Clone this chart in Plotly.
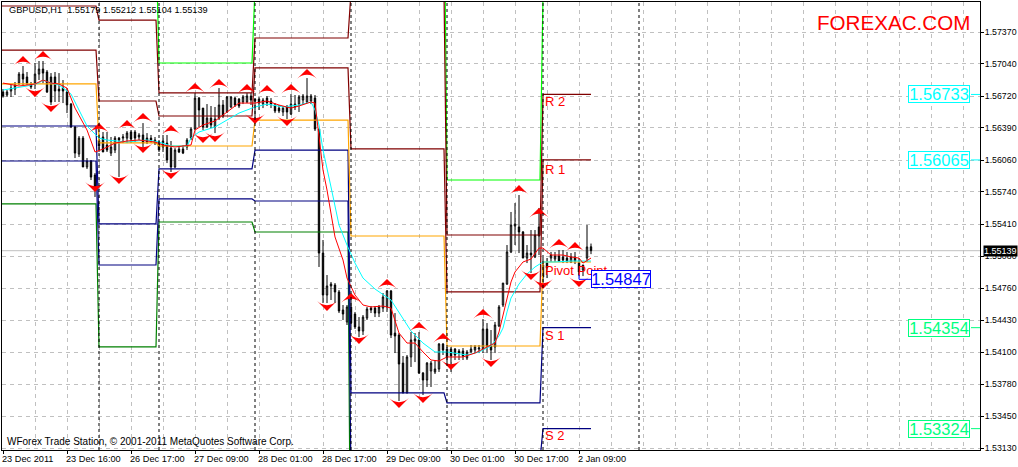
import plotly.graph_objs as go

# Candles, one per hour bar, oldest first
open_ = [1.56758,1.56727,1.56768,1.56788,1.56849,1.56941,1.56911,1.56829,1.56849,1.56941,
         1.56992,1.56962,1.56911,1.56911,1.56788,1.56798,1.56758,1.56635,1.56401,1.56125,
         1.56288,1.55993,1.56054,1.55911,1.56268,1.56299,1.56217,1.56135,1.56166,1.56288,
         1.56288,1.56288,1.56350,1.56350,1.56299,1.56319,1.56288,1.56288,1.56268,1.56248,
         1.56258,1.56237,1.56186,1.55993,1.56176,1.56176,1.56197,1.56288,1.56380,1.56696,
         1.56594,1.56401,1.56492,1.56401,1.56492,1.56625,1.56554,1.56605,1.56696,1.56686,
         1.56656,1.56656,1.56717,1.56686,1.56686,1.56635,1.56696,1.56666,1.56625,1.56594,
         1.56554,1.56605,1.56533,1.56605,1.56635,1.56676,1.56656,1.56666,1.56696,1.56380,
         1.55115,1.54687,1.54779,1.54789,1.54718,1.54534,1.54412,1.54565,1.54493,1.54361,
         1.54320,1.54452,1.54554,1.54554,1.54503,1.54554,1.54565,1.54728,1.54299,1.54279,
         1.53993,1.53687,1.54055,1.54218,1.54228,1.53891,1.53820,1.53912,1.53902,1.53932,
         1.54187,1.54136,1.54136,1.54136,1.54116,1.54116,1.54044,1.54106,1.54126,1.54136,
         1.54136,1.54340,1.54167,1.54157,1.54371,1.54585,1.54799,1.55126,1.55391,1.55381,
         1.55330,1.55064,1.55115,1.55075,1.55381,1.54993,1.55013,1.55064,1.55054,1.55085,
         1.55075,1.55064,1.55024,1.55075,1.55013,1.54942,1.55064,1.55179]
high = [1.56788,1.56778,1.56829,1.56860,1.56962,1.57023,1.56962,1.56860,1.57053,1.57074,
        1.57074,1.56982,1.56951,1.56962,1.56951,1.56880,1.56798,1.56645,1.56411,1.56309,
        1.56309,1.56084,1.56064,1.55931,1.56329,1.56350,1.56350,1.56299,1.56309,1.56299,
        1.56329,1.56360,1.56370,1.56370,1.56339,1.56441,1.56339,1.56319,1.56299,1.56268,
        1.56319,1.56319,1.56258,1.56186,1.56207,1.56217,1.56288,1.56401,1.56747,1.56707,
        1.56594,1.56635,1.56615,1.56605,1.56798,1.56676,1.56717,1.56717,1.56707,1.56696,
        1.56727,1.56747,1.56747,1.56696,1.56707,1.56696,1.56717,1.56696,1.56645,1.56625,
        1.56615,1.56625,1.56737,1.56727,1.56727,1.56737,1.56900,1.56737,1.56727,1.56380,
        1.55248,1.54891,1.54820,1.54809,1.54738,1.54585,1.54585,1.54656,1.54514,1.54462,
        1.54483,1.54565,1.54575,1.54575,1.54585,1.54707,1.54738,1.54738,1.54503,1.54299,
        1.54065,1.54075,1.54310,1.54299,1.54310,1.53902,1.54003,1.54014,1.54024,1.54197,
        1.54197,1.54157,1.54157,1.54146,1.54136,1.54146,1.54126,1.54177,1.54177,1.54177,
        1.54442,1.54401,1.54330,1.54412,1.54585,1.54809,1.55197,1.55534,1.55625,1.55707,
        1.55340,1.55197,1.55350,1.55350,1.55575,1.55064,1.55064,1.55126,1.55126,1.55146,
        1.55146,1.55126,1.55115,1.55126,1.55064,1.54972,1.55401,1.55212]
low = [1.56700,1.56707,1.56707,1.56727,1.56829,1.56829,1.56829,1.56788,1.56788,1.56880,
       1.56849,1.56748,1.56625,1.56656,1.56656,1.56645,1.56543,1.56390,1.56084,1.56095,
       1.55993,1.55972,1.55860,1.55687,1.56146,1.56146,1.56146,1.56105,1.56135,1.55891,
       1.56237,1.56237,1.56237,1.56248,1.56268,1.56186,1.56227,1.56237,1.56217,1.56146,
       1.56146,1.56033,1.55942,1.55982,1.56135,1.56125,1.56166,1.56268,1.56370,1.56401,
       1.56370,1.56390,1.56390,1.56339,1.56472,1.56492,1.56543,1.56594,1.56605,1.56594,
       1.56635,1.56645,1.56625,1.56482,1.56574,1.56594,1.56615,1.56594,1.56543,1.56543,
       1.56513,1.56482,1.56523,1.56574,1.56554,1.56625,1.56645,1.56635,1.56360,1.54973,
       1.54605,1.54605,1.54636,1.54605,1.54503,1.54432,1.54381,1.54361,1.54340,1.54258,
       1.54279,1.54432,1.54503,1.54462,1.54462,1.54514,1.54514,1.54248,1.54095,1.53606,
       1.53687,1.53687,1.53953,1.54003,1.53881,1.53667,1.53749,1.53749,1.53881,1.53902,
       1.54075,1.53993,1.53902,1.54024,1.54024,1.54024,1.54024,1.54095,1.54095,1.54095,
       1.54095,1.54095,1.54024,1.54095,1.54360,1.54565,1.54789,1.55115,1.55197,1.55115,
       1.55064,1.55013,1.54911,1.55064,1.55095,1.54809,1.54860,1.55024,1.55024,1.55024,
       1.55013,1.55013,1.55013,1.55003,1.54880,1.54880,1.55024,1.55104]
close = [1.56717,1.56758,1.56798,1.56829,1.56941,1.56890,1.56849,1.56809,1.56941,1.56992,
         1.56951,1.56758,1.56656,1.56768,1.56768,1.56768,1.56625,1.56401,1.56135,1.56288,
         1.55993,1.56054,1.55890,1.55789,1.56207,1.56146,1.56166,1.56197,1.56288,1.56268,
         1.56299,1.56340,1.56278,1.56288,1.56319,1.56237,1.56248,1.56268,1.56237,1.56166,
         1.56197,1.56064,1.55993,1.56166,1.56146,1.56135,1.56268,1.56380,1.56696,1.56574,
         1.56401,1.56492,1.56421,1.56482,1.56625,1.56513,1.56707,1.56707,1.56625,1.56615,
         1.56707,1.56717,1.56676,1.56666,1.56645,1.56676,1.56645,1.56635,1.56564,1.56564,
         1.56594,1.56554,1.56635,1.56635,1.56707,1.56717,1.56717,1.56717,1.56380,1.55115,
         1.54687,1.54779,1.54799,1.54718,1.54524,1.54493,1.54565,1.54401,1.54361,1.54320,
         1.54462,1.54544,1.54534,1.54503,1.54565,1.54667,1.54728,1.54279,1.54269,1.53983,
         1.53687,1.54055,1.54228,1.54238,1.53891,1.53820,1.53993,1.53993,1.53932,1.54187,
         1.54126,1.54055,1.54065,1.54075,1.54095,1.54065,1.54106,1.54136,1.54157,1.54146,
         1.54340,1.54167,1.54126,1.54381,1.54565,1.54809,1.55126,1.55401,1.55411,1.55330,
         1.55064,1.55115,1.55095,1.55299,1.55289,1.54871,1.54962,1.55095,1.55085,1.55034,
         1.55044,1.55034,1.55075,1.55034,1.54922,1.54993,1.55177,1.55139]
bars = list(range(len(close)))

# Moving averages, read at the bars where they bend
red_ma_bars = [0,4,8,10,12,14,16,18,21,23,25,28,31,34,38,40,43,47,48,50,53,56,59,63,66,69,72,74,77,78,
               79,80,81,82,83,85,86,88,90,92,95,97,99,101,103,105,107,109,111,115,118,121,123,124,125,
               126,127,128,130,132,134,135,137,140,142,144,145,147]
red_ma = [1.56849,1.56819,1.56839,1.56880,1.56849,1.56839,1.56798,1.56594,1.56370,1.56146,1.56176,
          1.56237,1.56258,1.56268,1.56248,1.56217,1.56197,1.56217,1.56370,1.56421,1.56462,1.56554,
          1.56645,1.56645,1.56666,1.56625,1.56594,1.56615,1.56656,1.56645,1.56309,1.55962,1.55758,
          1.55534,1.55279,1.55044,1.54860,1.54687,1.54585,1.54565,1.54575,1.54554,1.54299,1.54197,
          1.54197,1.54106,1.54024,1.54014,1.54055,1.54055,1.54095,1.54157,1.54197,1.54310,1.54483,
          1.54656,1.54820,1.54922,1.55024,1.55054,1.55166,1.55166,1.55095,1.55095,1.55075,1.55064,
          1.55013,1.55064]
cyan_ma_bars = [0,3,6,9,10,12,14,17,19,21,24,26,31,36,39,42,46,47,49,53,56,59,63,66,70,74,77,78,79,80,
                82,84,86,88,90,93,97,99,102,105,108,111,116,119,122,124,125,126,127,129,131,133,135,
                138,142,147]
cyan_ma = [1.56778,1.56798,1.56819,1.56849,1.56880,1.56849,1.56829,1.56737,1.56574,1.56411,1.56288,
           1.56268,1.56248,1.56268,1.56248,1.56207,1.56207,1.56288,1.56350,1.56401,1.56472,1.56543,
           1.56605,1.56635,1.56605,1.56625,1.56656,1.56574,1.56421,1.56166,1.55789,1.55401,1.55197,
           1.55013,1.54860,1.54748,1.54636,1.54514,1.54320,1.54197,1.54106,1.54106,1.54075,1.54106,
           1.54167,1.54269,1.54350,1.54514,1.54656,1.54799,1.54901,1.54973,1.55024,1.55024,1.55034,
           1.55034]

# Fractal arrows
up_bars = [5,10,24,31,35,42,48,54,61,66,72,76,87,96,104,110,120,129,134,139,143]
up_prices = [1.57125,1.57176,1.56442,1.56472,1.56544,1.56421,1.56850,1.56891,1.56840,1.56829,1.56840,
             1.56993,1.54708,1.54851,1.54412,1.54300,1.54545,1.55809,1.55575,1.55259,1.55228]
down_bars = [8,12,23,29,35,42,50,53,63,71,81,89,99,105,112,122,132,135,144]
down_prices = [1.56707,1.56554,1.55738,1.55820,1.56136,1.55871,1.56238,1.56248,1.56432,1.56411,1.54524,
               1.54188,1.53535,1.53586,1.53922,1.53953,1.54840,1.54749,1.54769]

# Daily pivot levels, one value per period
period_starts = [0,24,39,63,87,111,135]
r3 = [1.58000,1.58308,1.57054,1.57819,1.59000,1.55860,1.57747]
r2 = [1.57635,1.57492,1.56748,1.57309,1.57778,1.55299,1.56733]
r1 = [1.57186,1.56666,1.56513,1.57003,1.56177,1.54718,1.56065]
pivot = [1.56840,1.56238,1.56207,1.56472,1.55289,1.54167,1.55024]
s1 = [1.56411,1.55412,1.55973,1.56166,1.53688,1.53586,1.54354]
s2 = [1.56054,1.54993,1.55667,1.55646,1.52800,1.53004,1.53324]
s3 = [1.55616,1.54157,1.55432,1.55330,1.51170,1.52443,1.52300]
last_bar = 147
separators = [24,39,63,87,111,135,159]

x_tickvals = [0,16,32,48,64,80,96,112,128,144]
x_ticktext = ['23 Dec 2011','23 Dec 16:00','26 Dec 17:00','27 Dec 09:00','28 Dec 01:00',
              '28 Dec 17:00','29 Dec 09:00','30 Dec 01:00','30 Dec 17:00','2 Jan 09:00']
x_gridvals = list(range(8, 241, 8))
y_ticktext = ['1.57370','1.57040','1.56720','1.56390','1.56060','1.55740','1.55410',
              '1.55080','1.54760','1.54430','1.54100','1.53780','1.53450','1.53130']
y_tickvals = [1.57370,1.57044,1.56717,1.56391,1.56064,1.55738,1.55411,
              1.55085,1.54758,1.54432,1.54105,1.53779,1.53452,1.53126]

# Boxes on the right and next to the last candle
cyan_levels = [1.56733,1.56065]
green_levels = [1.54354,1.53324]
pivot_label = 1.54847
pivot_stub_bars = [144,144,147]
pivot_stub_prices = [1.54912,1.54847,1.54847]

level_names = ['R 2','R 1','Pivot Point','S 1','S 2']
level_name_prices = [1.56656,1.55972,1.54942,1.54269,1.53249]

FONT = 'Liberation Sans'
ROUGH_RED = '#ff0000'
GRID = '#c0c0c0'


def period_line(levels):
    xs, ys = [], []
    for k, level in enumerate(levels):
        xs.append(period_starts[k] if k else -0.25)
        xs.append(period_starts[k + 1] - 0.75 if k + 1 < len(levels) else last_bar)
        ys += [level, level]
    return xs, ys


data = [go.Candlestick(x=bars, open=open_, high=high, low=low, close=close, whiskerwidth=0,
                       increasing=dict(line=dict(color='black', width=1), fillcolor='white'),
                       decreasing=dict(line=dict(color='black', width=1), fillcolor='black'))]

for levels, color in [(s3, '#008000'), (r3, '#00ff00'), (s2, '#000080'), (s1, '#000080'),
                      (r2, '#800000'), (r1, '#800000'), (pivot, '#ffa500')]:
    xs, ys = period_line(levels)
    data.append(go.Scatter(x=xs, y=ys, mode='lines', line=dict(color=color, width=1.2)))

data.append(go.Scatter(x=cyan_ma_bars, y=cyan_ma, mode='lines', line=dict(color='#00ffff', width=1)))
data.append(go.Scatter(x=red_ma_bars, y=red_ma, mode='lines', line=dict(color=ROUGH_RED, width=1)))
data.append(go.Scatter(x=up_bars, y=up_prices, mode='markers',
                       marker=dict(symbol='arrow-wide', size=14, color=ROUGH_RED, line=dict(width=0))))
data.append(go.Scatter(x=down_bars, y=down_prices, mode='markers',
                       marker=dict(symbol='arrow-wide', size=14, color=ROUGH_RED, angle=180, line=dict(width=0))))
data.append(go.Scatter(x=pivot_stub_bars, y=pivot_stub_prices, mode='lines',
                       line=dict(color='#0000ff', width=1)))

# Short ticks joining the boxes to the price axis
for level, color in [(v, '#00ffff') for v in cyan_levels] + [(v, '#00ff7f') for v in green_levels]:
    data.append(go.Scatter(x=[242, 244.25], y=[level, level], mode='lines',
                           line=dict(color=color, width=1)))

annotations = [
    dict(xref='x', yref='paper', x=1, y=0.982, xanchor='left', yanchor='middle', showarrow=False,
         text='GBPUSD,H1  1.55179 1.55212 1.55104 1.55139', font=dict(family=FONT, size=9.2, color='black')),
    dict(xref='x', yref='paper', x=0.5, y=0.019, xanchor='left', yanchor='middle', showarrow=False,
         text='WForex Trade Station, © 2001-2011 MetaQuotes Software Corp.',
         font=dict(family=FONT, size=10, color='black')),
    dict(xref='x', yref='paper', x=242.25, y=0.955, xanchor='right', yanchor='middle', showarrow=False,
         text='FOREXAC.COM', font=dict(family=FONT, size=20.6, color=ROUGH_RED)),
    dict(xref='paper', yref='y', x=1, y=close[-1], xanchor='left', yanchor='middle', xshift=3, showarrow=False,
         text='%.5f' % close[-1], bgcolor='black', borderpad=0, font=dict(family=FONT, size=9, color='white')),
]
for name, price in zip(level_names, level_name_prices):
    annotations.append(dict(x=135, y=price, xanchor='left', yanchor='middle', showarrow=False, text=name,
                            font=dict(family=FONT, size=13, color=ROUGH_RED)))
for level, color in [(v, '#00ffff') for v in cyan_levels] + [(v, '#00ff7f') for v in green_levels]:
    annotations.append(dict(x=234, y=level, showarrow=False, text='%.5f' % level, width=60, height=16,
                            borderpad=0, borderwidth=1, bordercolor=color, bgcolor='white',
                            font=dict(family=FONT, size=16.5, color=color)))
annotations.append(dict(x=154.4, y=pivot_label, showarrow=False, text='%.5f' % pivot_label, width=58, height=16,
                        borderpad=0, borderwidth=1, bordercolor='#0000ff', bgcolor='white',
                        font=dict(family=FONT, size=16.5, color='#0000ff')))

shapes = [dict(type='line', xref='x', yref='paper', x0=b, x1=b, y0=0, y1=1,
               line=dict(color='black', width=1, dash='3px,3px')) for b in separators]
shapes.append(dict(type='line', xref='paper', yref='y', x0=0, x1=1, y0=close[-1], y1=close[-1], layer='below',
                   line=dict(color=GRID, width=1)))

layout = go.Layout(width=1018, height=467, margin=dict(l=2, r=38, t=2, b=17), showlegend=False,
                   plot_bgcolor='white', paper_bgcolor='white', boxgap=0.5, annotations=annotations, shapes=shapes,
                   font=dict(family=FONT, size=10, color='black'),
                   xaxis=dict(range=[-0.25, 244.25], rangeslider=dict(visible=False), tickmode='array',
                              tickvals=x_tickvals, ticktext=x_ticktext, ticks='outside', ticklen=3, tickcolor='black',
                              ticklabelposition='outside right', ticklabelshift=-2, tickangle=0, automargin=False,
                              showline=True, mirror=True, linecolor='black', linewidth=1, zeroline=False,
                              showgrid=True, gridcolor=GRID, griddash='4px,4px', tickfont=dict(family=FONT, size=9.2),
                              minor=dict(tickmode='array', tickvals=x_gridvals, showgrid=True, gridcolor=GRID,
                                         griddash='4px,4px', ticks='')),
                   yaxis=dict(range=[1.53106, 1.57676], side='right', tickmode='array', tickvals=y_tickvals,
                              ticktext=y_ticktext, ticks='outside', ticklen=3, tickcolor='black', showline=True,
                              ticklabelstandoff=-1, automargin=False, mirror=True, linecolor='black', linewidth=1,
                              zeroline=False, gridcolor=GRID, griddash='4px,4px',
                              tickfont=dict(family=FONT, size=8.8)))

fig = go.Figure(data=data, layout=layout)
fig.write_html("out.html", config=dict(displayModeBar=False),
               post_script="document.body.style.margin='0';document.body.style.overflow='hidden';")
